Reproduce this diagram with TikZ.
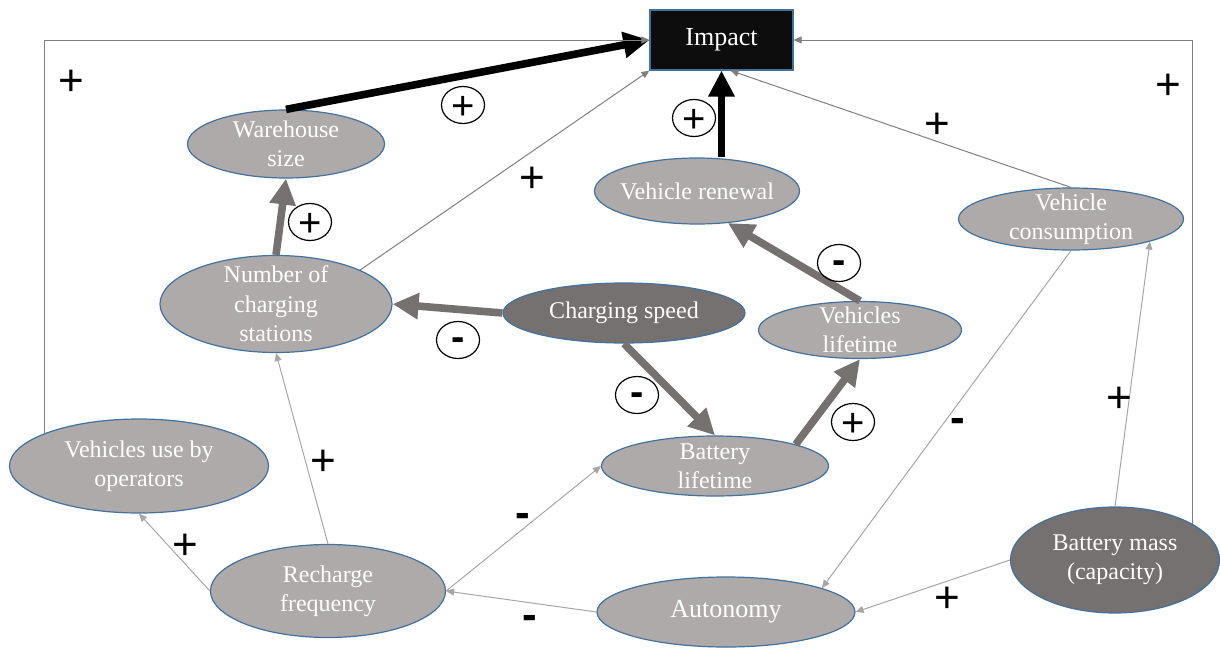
\documentclass[tikz,border=0pt]{standalone}
\usepackage{fontspec}
\setmainfont{Liberation Serif}
\newfontfamily\signfont{Liberation Sans}
\usetikzlibrary{arrows.meta, shapes.geometric}
\definecolor{bubblegray}{HTML}{AEAAAA}
\definecolor{flowgray}{HTML}{767171}
\definecolor{rimblue}{HTML}{41719C}
\definecolor{thingray}{HTML}{A6A6A6}
\definecolor{impactgray}{HTML}{7F7F7F}

\begin{document}
\begin{tikzpicture}[x=0.5pt, y=-0.5pt,
  bubble/.style = {ellipse, draw=rimblue, line width=0.6pt, fill=bubblegray, text=white, align=center, inner xsep=-6pt, inner ysep=-4pt, font=\fontsize{12}{14.7}\selectfont},
  darkbubble/.style = {bubble, fill=flowgray},
  impactbox/.style = {rectangle, draw=rimblue, line width=0.6pt, fill=black!95, text=white, font=\fontsize{13}{15}\selectfont},
  boldflow/.style = {line width=3.8pt, -{Triangle[length=13pt, width=12.5pt]}},
  thickflow/.style = {boldflow, draw=flowgray, fill=flowgray},
  thinlink/.style = {line width=0.5pt, draw=thingray, -{Triangle[length=4pt, width=3.5pt]}},
  impactlink/.style = {thinlink, draw=impactgray},
  possign/.style = {inner sep=0pt, text height=15.4pt, text depth=0pt, font=\signfont\fontsize{22}{22}\selectfont},
  negsign/.style = {possign, text height=11.6pt, font=\signfont\bfseries\fontsize{22}{22}\selectfont},
  circpos/.style = {ellipse, draw, line width=0.6pt, minimum width=21.5pt, minimum height=18.5pt, inner sep=-2pt, text height=14pt, text depth=0pt, font=\signfont\fontsize{20}{20}\selectfont},
  circneg/.style = {circpos, text height=10.6pt, font=\signfont\bfseries\fontsize{20}{20}\selectfont}]
  \useasboundingbox (0,0) rectangle (1220,648);

  % Impact
  \node[impactbox, minimum width=71.5pt, minimum height=30pt] (impact) at (721.5,40) {Impact};

  % upper bubbles
  \node[bubble, minimum width=98.5pt, minimum height=34pt] (warehouse) at (286,144) {Warehouse\\size};
  \node[bubble, minimum width=102.5pt, minimum height=33pt] (renewal) at (697,191) {Vehicle renewal};
  \node[bubble, minimum width=112.5pt, minimum height=31pt] (consumption) at (1071,219) {Vehicle\\consumption};
  \node[bubble, minimum width=116pt, minimum height=48.5pt] (stations) at (276,304) {Number of\\charging\\stations};

  % middle bubbles
  \node[darkbubble, minimum width=121pt, minimum height=30pt] (speed) at (624,313) {Charging speed};
  \node[bubble, minimum width=101.5pt, minimum height=28.5pt] (vehlife) at (860,330) {Vehicles\\lifetime};
  \node[bubble, minimum width=113.5pt, minimum height=30pt] (battlife) at (715,466) {Battery\\lifetime};
  \node[bubble, minimum width=129.5pt, minimum height=47pt] (usage) at (139,466) {Vehicles use by\\operators};

  % lower bubbles
  \node[bubble, minimum width=117.5pt, minimum height=46.5pt] (recharge) at (328,591) {Recharge\\frequency};
  \node[bubble, minimum width=129pt, minimum height=35pt, font=\fontsize{13}{15}\selectfont] (autonomy) at (726,612) {Autonomy};
  \node[darkbubble, minimum width=104.5pt, minimum height=53pt] (mass) at (1115,560) {Battery mass\\(capacity)};

  % links to impact
  \draw[boldflow] (warehouse.north) -- (impact.west);
  \draw[boldflow] (renewal.north -| impact.south) -- (impact.south);
  \draw[impactlink] (stations.22) -- (impact.south west);
  \draw[impactlink] (consumption.north) -- ([xshift=4.5pt]impact.south);
  \draw[impactlink] (usage.161) |- (impact.west);
  \draw[impactlink] (mass.25) |- (impact.east);

  % thick grey links
  \draw[thickflow] (stations.north) -- (warehouse.south);
  \draw[thickflow] (speed.west) -- (stations.east);
  \draw[thickflow] (speed.south) -- (battlife.north);
  \draw[thickflow] (battlife.15) -- (vehlife.south);
  \draw[thickflow] (vehlife.north) -- (renewal.-46);

  % thin links
  \draw[thinlink] (recharge.north) -- (stations.south);
  \draw[thinlink] (recharge.west) -- (usage.south);
  \draw[thinlink] (recharge.east) -- (battlife.west);
  \draw[thinlink] (autonomy.west) -- (recharge.east);
  \draw[thinlink] (consumption.south) -- (autonomy.14);
  \draw[thinlink] (mass.west) -- (autonomy.east);
  \draw[thinlink] (mass.north) -- (consumption.-16);

  % circled signs
  \node[circpos] (cs1) at (463,105) {+};
  \node[circpos] (cs2) at (694,118) {+};
  \node[circpos] (cs3) at (310,222) {+};
  \node[circneg] (cs4) at (458,340) {-};
  \node[circneg] (cs5) at (839,263) {-};
  \node[circneg] (cs6) at (637,395) {-};
  \node[circpos] (cs7) at (853,422) {+};

  % plain signs
  \node[possign] (ps1) at (71,80) {+};
  \node[possign] (ps2) at (1168,84) {+};
  \node[possign] (ps3) at (532,177) {+};
  \node[possign] (ps4) at (937,123) {+};
  \node[possign] (ps5) at (323,460) {+};
  \node[possign] (ps6) at (185,544) {+};
  \node[negsign] (ps7) at (523,516) {-};
  \node[negsign] (ps8) at (530,618) {-};
  \node[negsign] (ps9) at (958,421) {-};
  \node[possign] (ps10) at (947,597) {+};
  \node[possign] (ps11) at (1119,397) {+};

\end{tikzpicture}
\end{document}
